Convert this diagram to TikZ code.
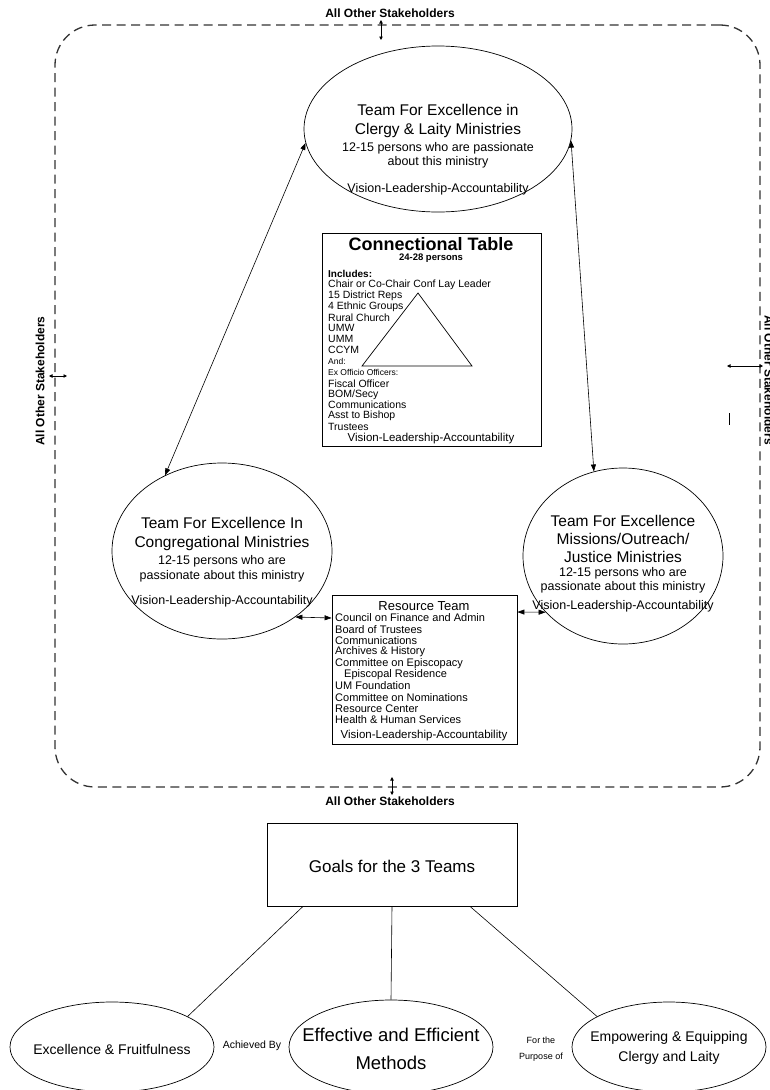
\documentclass[tikz,border=0pt]{standalone}
\usepackage{fontspec}
\setmainfont{Liberation Sans}
\usetikzlibrary{shapes.geometric, arrows.meta, positioning}
\tikzset{
  frame/.style={draw=black!80, line width=1.3pt, dash pattern=on 9pt off 5.5pt, rounded corners=40pt},
  team/.style={draw, ellipse, line width=0.7pt, inner sep=0pt},
  panel/.style={draw, rectangle, line width=0.8pt, inner sep=0pt},
  link/.style={draw, line width=0.6pt, {Triangle[length=7pt,width=5pt]}-{Triangle[length=7pt,width=5pt]}},
  stake/.style={draw, line width=0.8pt, {Triangle[length=3.5pt,width=3.5pt]}-{Triangle[length=3.5pt,width=3.5pt]}},
  stakelbl/.style={font=\fontsize{12}{14}\selectfont\bfseries, inner sep=0pt},
  big/.style={font=\fontsize{15.5}{17}\selectfont, inner sep=0pt},
  note/.style={font=\fontsize{12.5}{14}\selectfont, inner sep=0pt},
  item/.style={font=\fontsize{10.5}{12}\selectfont, inner sep=0pt, anchor=west},
  tiny/.style={font=\fontsize{8.5}{9}\selectfont, inner sep=0pt, anchor=west},
  goal/.style={font=\fontsize{14}{16}\selectfont, inner sep=0pt},
  joiner/.style={font=\fontsize{10.5}{12}\selectfont, inner sep=0pt}
}

\begin{document}
\begin{tikzpicture}[x=1pt, y=-1pt]
  \useasboundingbox (0,0) rectangle (770,1090);

  % Stakeholder frame
  \node[frame, minimum width=705pt, minimum height=762pt] (frame) at (407.5,406) {};
  \node[stakelbl] (stkT) at (390,13) {All Other Stakeholders};
  \node[stakelbl] (stkB) at (390,801) {All Other Stakeholders};
  \node[stakelbl, rotate=90] (stkL) at (40,381) {All Other Stakeholders};
  \node[stakelbl, rotate=-90] (stkR) at (769,380) {All Other Stakeholders};
  \coordinate (tA) at (381,20);  \coordinate (tB) at (381,40);
  \coordinate (bA) at (392,777); \coordinate (bB) at (392,795);
  \coordinate (lA) at (49,376);  \coordinate (lB) at (67,376);
  \coordinate (rA) at (727,366); \coordinate (rB) at (763,366);
  \coordinate (rC) at (729,413); \coordinate (rD) at (729,425);
  \draw[stake] (tA) -- (tB);
  \draw[stake] (bA) -- (bB);
  \draw[stake] (lA) -- (lB);
  \draw[stake] (rA) -- (rB);
  \draw[line width=0.8pt] (rC) -- (rD);

  % Team for Excellence in Clergy & Laity Ministries
  \node[team, minimum width=268pt, minimum height=166pt] (clergy) at (438,129) {};
  \node[big] (clergy1) at (438,110) {Team For Excellence in};
  \node[big] (clergy2) at (438,130) {Clergy \& Laity Ministries};
  \node[note] (clergy3) at (438,148) {12-15 persons who are passionate};
  \node[note] (clergy4) at (438,162) {about this ministry};
  \node[note] (clergy5) at (438,189) {Vision-Leadership-Accountability};

  % Connectional Table
  \node[panel, minimum width=219pt, minimum height=213pt] (table) at (431.5,339.5) {};
  \node[font=\fontsize{18}{20}\selectfont\bfseries, inner sep=0pt] (tableT) at (431,244) {Connectional Table};
  \node[font=\fontsize{9.5}{10}\selectfont\bfseries, inner sep=0pt] (tableN) at (431,258) {24-28 persons};
  \node[item, font=\fontsize{10}{11}\selectfont\bfseries] (tableI) at (328,274) {Includes:};
  \foreach \txt [count=\i from 0] in {Chair or Co-Chair Conf Lay Leader, 15 District Reps,
      4 Ethnic Groups, Rural Church, UMW, UMM, CCYM}
    \node[item] (tableA\i) at (328,285+10.8*\i) {\txt};
  \node[tiny] (tableAnd) at (328,361) {And:};
  \node[tiny] (tableEx) at (328,372) {Ex Officio Officers:};
  \foreach \txt [count=\i from 0] in {Fiscal Officer, BOM/Secy, Communications, Asst to Bishop, Trustees}
    \node[item] (tableB\i) at (328,383.5+10.8*\i) {\txt};
  \node[note, font=\fontsize{11.5}{13}\selectfont] (tableV) at (431,439) {Vision-Leadership-Accountability};
  \draw[line width=0.7pt] (418,293) -- (472,366) -- (362,366) -- cycle;

  % Team for Excellence in Congregational Ministries
  \node[team, minimum width=220pt, minimum height=176pt] (congr) at (222,551) {};
  \node[big] (congr1) at (222,523) {Team For Excellence In};
  \node[big] (congr2) at (222,543) {Congregational Ministries};
  \node[note] (congr3) at (222,561) {12-15 persons who are};
  \node[note] (congr4) at (222,576) {passionate about this ministry};
  \node[note] (congr5) at (222,601) {Vision-Leadership-Accountability};

  % Team for Excellence Missions/Outreach/Justice Ministries
  \node[team, minimum width=200pt, minimum height=176pt] (mission) at (623,556) {};
  \node[big] (mission1) at (623,521) {Team For Excellence};
  \node[big] (mission2) at (623,539) {Missions/Outreach/};
  \node[big] (mission3) at (623,557) {Justice Ministries};
  \node[note] (mission4) at (623,573) {12-15 persons who are};
  \node[note] (mission5) at (623,587) {passionate about this ministry};
  \node[note] (mission6) at (623,606) {Vision-Leadership-Accountability};

  % Resource Team
  \node[panel, minimum width=185pt, minimum height=149pt] (res) at (424.5,669.5) {};
  \node[font=\fontsize{13}{15}\selectfont, inner sep=0pt] (resT) at (424,606) {Resource Team};
  \foreach \txt [count=\i from 0] in {Council on Finance and Admin, Board of Trustees, Communications,
      Archives \& History, Committee on Episcopacy, \hspace{9pt}Episcopal Residence, UM Foundation,
      Committee on Nominations, Resource Center, Health \& Human Services}
    \node[item, font=\fontsize{11}{12}\selectfont] (resI\i) at (335,618+11.3*\i) {\txt};
  \node[note, font=\fontsize{11.5}{13}\selectfont] (resV) at (424,736) {Vision-Leadership-Accountability};

  % Connections between the teams
  \draw[link] (clergy.186) -- (congr.127);
  \draw[link] (clergy.355) -- (mission.109);
  \draw[link] (congr.318) -- (res.west |- resI0);
  \draw[link] ([yshift=-6pt]res.east |- resT) -- (mission.216);

  % Goals
  \node[panel, minimum width=250pt, minimum height=83pt] (goals) at (392,864.5) {};
  \node[goal, font=\fontsize{17}{19}\selectfont] (goalsT) at (392,866) {Goals for the 3 Teams};

  \node[team, minimum width=204pt, minimum height=90pt] (fruit) at (112,1047) {};
  \node[goal] (fruitT) at (112,1049) {Excellence \& Fruitfulness};
  \node[team, minimum width=204pt, minimum height=94pt] (method) at (391,1047) {};
  \node[goal, font=\fontsize{18.5}{21}\selectfont] (method1) at (391,1035) {Effective and Efficient};
  \node[goal, font=\fontsize{18.5}{21}\selectfont] (method2) at (391,1063) {Methods};
  \node[team, minimum width=194pt, minimum height=90pt] (equip) at (669,1047) {};
  \node[goal] (equip1) at (669,1038) {Empowering \& Equipping};
  \node[goal] (equip2) at (669,1058) {Clergy and Laity};

  \node[joiner] (achv) at (252,1046) {Achieved By};
  \node[joiner, font=\fontsize{9}{11}\selectfont] (purp1) at (541,1040) {For the};
  \node[joiner, font=\fontsize{9}{11}\selectfont] (purp2) at (541,1057) {Purpose of};

  \draw[line width=0.6pt] ([xshift=-89pt]goals.south) -- (fruit.22);
  \draw[line width=0.6pt] (goals.south) -- (method.north);
  \draw[line width=0.6pt] ([xshift=78pt]goals.south) -- (equip.157);
\end{tikzpicture}
\end{document}
